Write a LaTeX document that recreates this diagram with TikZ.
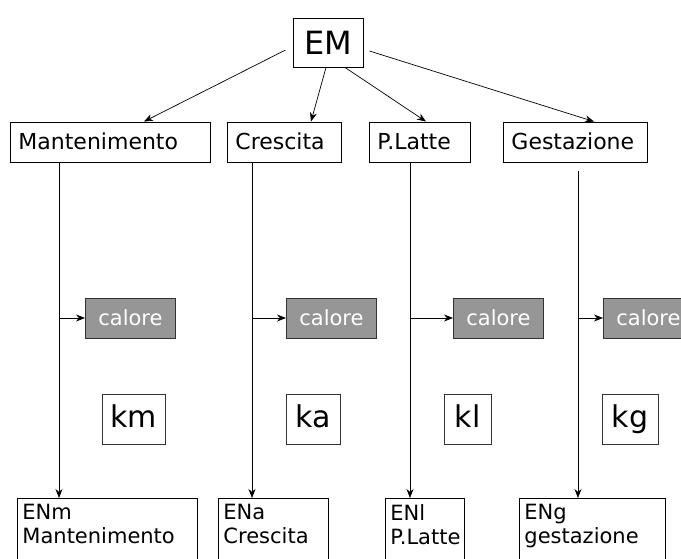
\documentclass[tikz,border=0pt]{standalone}
\usepackage{fontspec}
\setmainfont{DejaVu Sans}
\usetikzlibrary{arrows.meta}
\definecolor{calgray}{RGB}{150,150,150}
\begin{document}
\begin{tikzpicture}[x=1pt,y=-1pt,
  box/.style={draw=black,line width=0.9pt,inner xsep=8pt,inner ysep=0pt,minimum height=40pt,align=left,font=\fontsize{22}{25}\selectfont,text height=18pt,text depth=2pt,anchor=west},
  cal/.style={draw=black!80,fill=calgray,line width=0.9pt,text=white,minimum width=90pt,minimum height=40pt,inner sep=0pt,font=\fontsize{21}{24}\selectfont,anchor=west},
  kbox/.style={draw=black!80,line width=0.8pt,minimum height=50pt,inner sep=0pt,font=\fontsize{30}{32}\selectfont,text height=22pt,text depth=6pt},
  bot/.style={draw=black,line width=0.9pt,inner xsep=5pt,inner ysep=6pt,align=left,anchor=north west,font=\fontsize{21}{24}\selectfont,text depth=40pt},
  arr/.style={-{Stealth[length=9pt,width=7pt]},line width=0.7pt}]
\useasboundingbox (0,0) rectangle (681,559);

\node[draw,line width=0.9pt,minimum width=70pt,minimum height=49pt,inner sep=0pt,font=\fontsize{32}{36}\selectfont] (em) at (328,42.5) {EM};

\node[box,text width=184pt] (mant) at (10,142) {Mantenimento};
\node[box,text width=98pt] (cres) at (227,142) {Crescita};
\node[box,text width=85pt] (pl) at (369,142) {P.Latte};
\node[box,text width=128pt] (gest) at (503,142) {Gestazione};

\draw[arr] ([xshift=-7pt,yshift=-7.5pt]em.west) -- ([xshift=134pt]mant.north west);
\draw[arr] ([xshift=-2pt]em.south) -- ([xshift=84pt]cres.north west);
\draw[arr] ([xshift=17pt]em.south) -- ([xshift=57pt]pl.north west);
\draw[arr] ([xshift=6pt,yshift=-8.5pt]em.east) -- ([xshift=91pt]gest.north west);

\coordinate (l1) at (59,0);
\coordinate (l2) at (252,0);
\coordinate (l3) at (410,0);
\coordinate (l4) at (578,0);
\coordinate (g0) at (578,171);

\node[cal] (c1) at (85,318) {calore};
\node[cal] (c2) at (286,318) {calore};
\node[cal] (c3) at (453,318) {calore};
\node[cal] (c4) at (603,318) {calore};

\node[kbox,minimum width=63pt] (km) at (133.5,419) {km};
\node[kbox,minimum width=54pt] (ka) at (313,419) {ka};
\node[kbox,minimum width=47pt] (kl) at (467.5,419) {kl};
\node[kbox,minimum width=56pt] (kg) at (630,419) {kg};

\node[bot,text width=170pt] (enm) at (17,498) {ENm\\Mantenimento};
\node[bot,text width=100pt] (ena) at (218,498) {ENa\\Crescita};
\node[bot,text width=69pt] (enl) at (385,498) {ENl\\P.Latte};
\node[bot,text width=136pt] (eng) at (519,498) {ENg\\gestazione};

\draw[arr] (mant.south -| l1) -- (enm.north -| l1);
\draw[arr] (cres.south -| l2) -- (ena.north -| l2);
\draw[arr] (pl.south -| l3) -- (enl.north -| l3);
\draw[arr] (g0) -- (eng.north -| l4);

\draw[arr] (c1.west -| l1) -- (c1.west);
\draw[arr] (c2.west -| l2) -- (c2.west);
\draw[arr] (c3.west -| l3) -- (c3.west);
\draw[arr] (c4.west -| l4) -- (c4.west);
\end{tikzpicture}
\end{document}
